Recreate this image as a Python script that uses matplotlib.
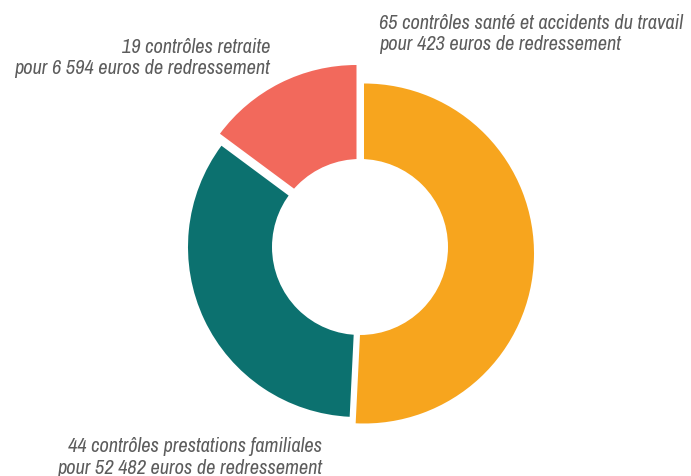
import matplotlib
matplotlib.use("Agg")
import matplotlib.pyplot as plt
from matplotlib.patches import Circle

# data
counts = [65, 44, 19]
branches = ["santé et accidents du travail", "prestations familiales", "retraite"]
amounts = ["423", "52 482", "6 594"]

# style / layout (pixels)
W, H = 691, 476
colors = ["#F7A51E", "#0C716F", "#F2695C"]
text_color = "#5c5c5c"
centre = (360, 247)      # pie centre in px
scale = 170.0            # px per pie radius
hole = 88 / scale
nudge = [(4, 6.5), (-2, 0), (-3.5, -12)]   # per slice offset in px (x right, y down)
label_pos = [(379, "left", 29), (322, "right", 452), (270, "right", 53)]
line_step = 21.5

fig = plt.figure(figsize=(W / 100, H / 100), dpi=100)
ax = fig.add_axes([0, 0, 1, 1])

wedges, _ = ax.pie(counts, colors=colors, startangle=90, counterclock=False,
                   radius=1.0, wedgeprops=dict(linewidth=0))
ax.set_xlim(-centre[0] / scale, (W - centre[0]) / scale)
ax.set_ylim(-(H - centre[1]) / scale, centre[1] / scale)
ax.axis("off")

for w, (dx, dy) in zip(wedges, nudge):
    cx, cy = w.center
    w.set_center((cx + dx / scale, cy - dy / scale))

ax.add_patch(Circle((0, 0), hole, facecolor="white", edgecolor="none", zorder=5))

font = ["Archivo Narrow", "DejaVu Sans"]
for n, b, a, (x, ha, y) in zip(counts, branches, amounts, label_pos):
    lines = [f"{n} contrôles {b}", f"pour {a} euros de redressement"]
    for i, line in enumerate(lines):
        fig.text(x / W, 1 - (y + i * line_step) / H, line, ha=ha, va="baseline",
                 fontsize=14.7, style="italic", color=text_color, family=font)

fig.savefig("out.png", dpi=100)
